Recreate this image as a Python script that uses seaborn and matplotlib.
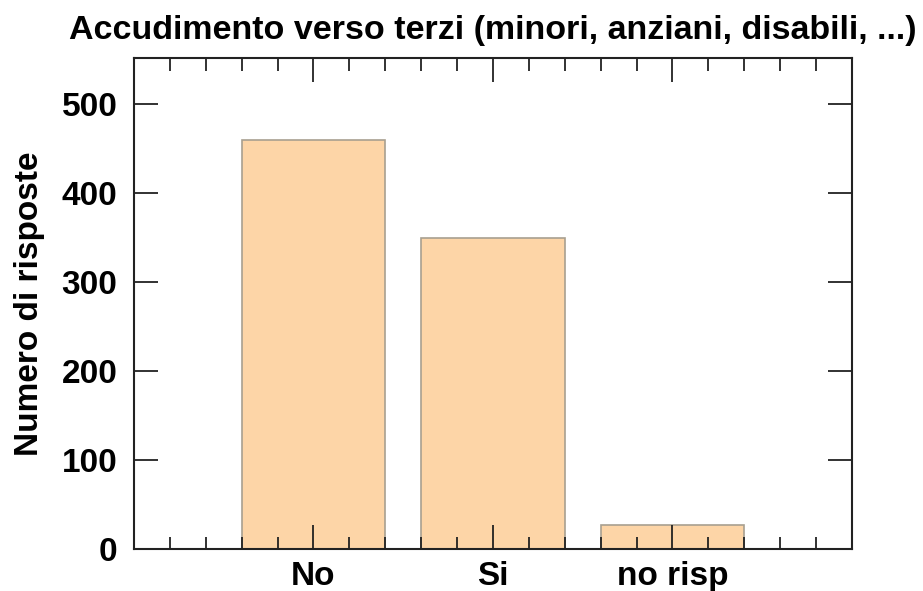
import matplotlib
matplotlib.use("Agg")
import matplotlib.pyplot as plt
from matplotlib.ticker import MultipleLocator
import seaborn as sns
import pandas as pd

# risposte alla domanda
risposte = ["No", "Si", "no risp"]
conteggi = [460, 350, 27]

df = pd.DataFrame({"risposta": risposte, "n": conteggi})

sns.set_style("white")
plt.rcParams['font.family'] = ['Liberation Sans', 'DejaVu Sans']
plt.rcParams['text.color'] = 'black'
plt.rcParams['axes.labelcolor'] = 'black'
plt.rcParams['xtick.color'] = 'black'
plt.rcParams['ytick.color'] = 'black'

fig = plt.figure(figsize=(9.23, 5.91), dpi=100)
ax = fig.add_axes([0.1452, 0.0711, 0.7778, 0.8308])

sns.barplot(data=df, x="risposta", y="n", color="#FDD5A7", saturation=1,
            edgecolor="#A8A090", linewidth=1.2, width=0.8, ax=ax)

ax.set_xlim(-1, 3)
ax.set_ylim(0, 552)
ax.set_yticks([0, 100, 200, 300, 400, 500])
ax.xaxis.set_minor_locator(MultipleLocator(0.2))

for s in ax.spines.values():
    s.set_linewidth(1.5)
    s.set_color("#222222")

ax.tick_params(axis="both", which="major", direction="in", length=17.5, width=1.3,
               color="#222222", top=True, right=True, bottom=True, left=True,
               labelsize=24, labelcolor="black")
ax.tick_params(axis="x", which="minor", direction="in", length=9, width=1.3,
               color="#222222", top=True, bottom=True)
ax.tick_params(axis="y", pad=12)
ax.tick_params(axis="x", pad=9)
for lbl in ax.get_xticklabels() + ax.get_yticklabels():
    lbl.set_fontweight("bold")
ax.set_axisbelow(False)

ax.set_xlabel("")
ax.set_ylabel("Numero di risposte", fontsize=24, fontweight="bold", labelpad=12)
ax.set_title("Accudimento verso terzi (minori, anziani, disabili, ...)",
             fontsize=24.5, fontweight="bold", pad=14, color="black")

fig.savefig("out.png", dpi=100)
